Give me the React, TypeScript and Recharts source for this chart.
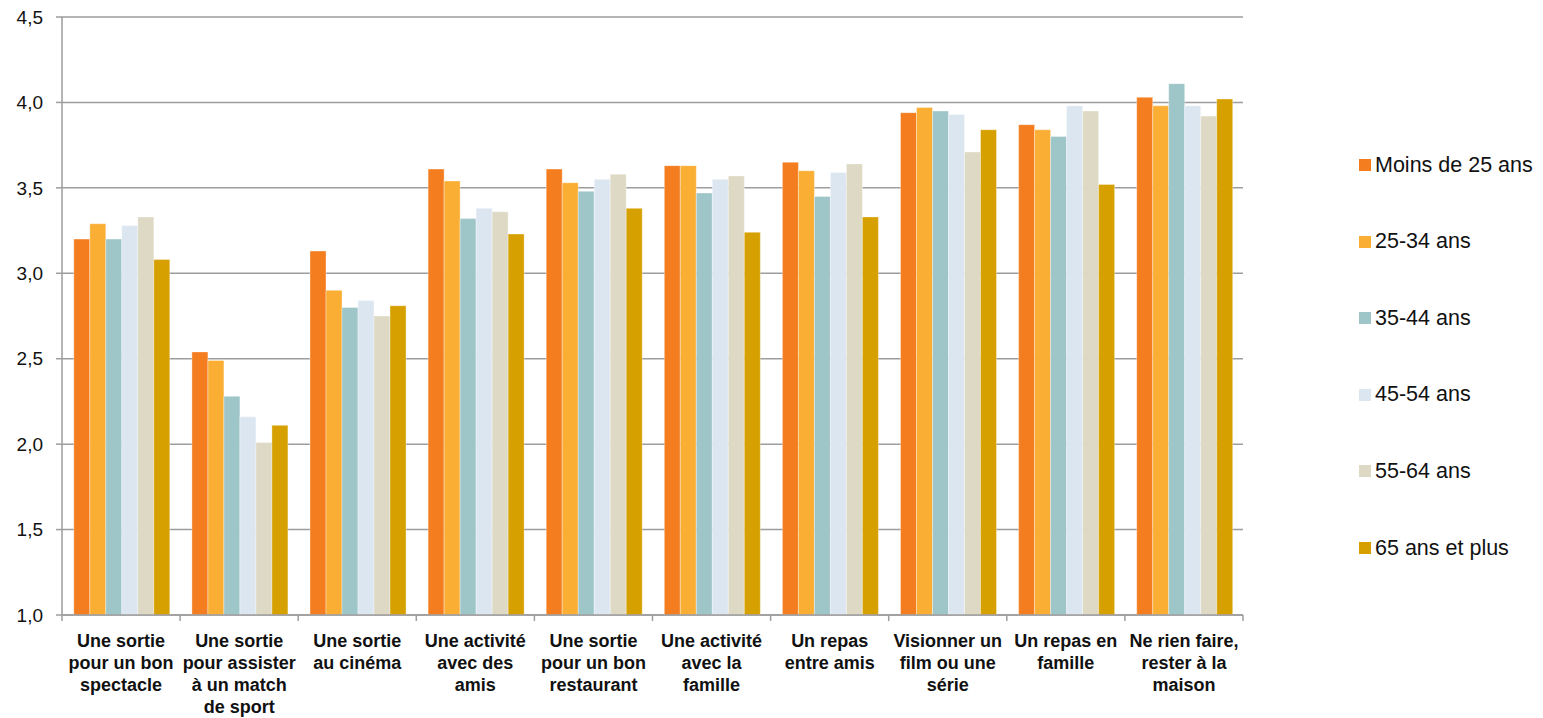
import React from "react";
import { Bar, BarChart, CartesianGrid, XAxis, YAxis } from "recharts";

// Age groups and their colours
const seriesNames = [
  "Moins de 25 ans",
  "25-34 ans",
  "35-44 ans",
  "45-54 ans",
  "55-64 ans",
  "65 ans et plus",
];
const seriesColors = ["#F47D20", "#FBAE34", "#9EC5C8", "#DCE6F1", "#DDD9C4", "#D6A000"];

// Category labels, split the way the original wraps them
const categoryLines = [
  ["Une sortie", "pour un bon", "spectacle"],
  ["Une sortie", "pour assister", "à un match", "de sport"],
  ["Une sortie", "au cinéma"],
  ["Une activité", "avec des", "amis"],
  ["Une sortie", "pour un bon", "restaurant"],
  ["Une activité", "avec la", "famille"],
  ["Un repas", "entre amis"],
  ["Visionner un", "film ou une", "série"],
  ["Un repas en", "famille"],
  ["Ne rien faire,", "rester à la", "maison"],
];
const categories = categoryLines.map((l) => l.join(" "));

const moins25 = [3.2, 2.54, 3.13, 3.61, 3.61, 3.63, 3.65, 3.94, 3.87, 4.03];
const ans25_34 = [3.29, 2.49, 2.9, 3.54, 3.53, 3.63, 3.6, 3.97, 3.84, 3.98];
const ans35_44 = [3.2, 2.28, 2.8, 3.32, 3.48, 3.47, 3.45, 3.95, 3.8, 4.11];
const ans45_54 = [3.28, 2.16, 2.84, 3.38, 3.55, 3.55, 3.59, 3.93, 3.98, 3.98];
const ans55_64 = [3.33, 2.01, 2.75, 3.36, 3.58, 3.57, 3.64, 3.71, 3.95, 3.92];
const ans65plus = [3.08, 2.11, 2.81, 3.23, 3.38, 3.24, 3.33, 3.84, 3.52, 4.02];

const seriesValues = [moins25, ans25_34, ans35_44, ans45_54, ans55_64, ans65plus];
const yTicks = [1, 1.5, 2, 2.5, 3, 3.5, 4, 4.5];

const data = categories.map((name, i) => {
  const row: Record<string, string | number> = { name };
  seriesNames.forEach((s, k) => {
    row[s] = seriesValues[k][i];
  });
  return row;
});

const WIDTH = 1543;
const HEIGHT = 718;
const PLOT_LEFT = 62;
const PLOT_RIGHT = 1243;
const BAND = (PLOT_RIGHT - PLOT_LEFT) / categories.length;
const FONT = '"Liberation Sans", Arial, sans-serif';
const AXIS_GRAY = "#9d9d9d";

function CategoryTick(props: any) {
  const { x, y, payload, index } = props;
  const i0 = payload.index ?? index;
  const lines = categoryLines[i0] ?? [payload.value];
  return (
    <g>
      <line x1={x - BAND / 2} x2={x - BAND / 2} y1={y} y2={y + 6} stroke={AXIS_GRAY} strokeWidth={1.5} />
      {i0 === categories.length - 1 && (
        <line x1={x + BAND / 2} x2={x + BAND / 2} y1={y} y2={y + 6} stroke={AXIS_GRAY} strokeWidth={1.5} />
      )}
      <text
        x={x}
        y={y + 32}
        textAnchor="middle"
        fontFamily={FONT}
        fontSize={18}
        fontWeight="bold"
        fill="#111"
      >
        {lines.map((l: string, i: number) => (
          <tspan key={i} x={x} dy={i === 0 ? 0 : 22}>
            {l}
          </tspan>
        ))}
      </text>
    </g>
  );
}

export default function App() {
  return (
    <div style={{ position: "absolute", left: 0, top: 0, width: WIDTH, height: HEIGHT, background: "#fff" }}>
      <BarChart
        width={WIDTH}
        height={HEIGHT}
        data={data}
        margin={{ top: 17, right: WIDTH - PLOT_RIGHT, bottom: 0, left: 0 }}
        barCategoryGap="10%"
        barGap={0}
      >
        <CartesianGrid horizontal vertical={false} stroke={AXIS_GRAY} strokeWidth={1.5} />
        <XAxis
          dataKey="name"
          height={103}
          interval={0}
          tickLine={false}
          tickSize={0}
          tickMargin={0}
          axisLine={{ stroke: AXIS_GRAY, strokeWidth: 1.5 }}
          tick={<CategoryTick />}
        />
        <YAxis
          width={PLOT_LEFT}
          domain={[1, 4.5]}
          ticks={yTicks}
          interval={0}
          tickSize={6}
          tickMargin={13}
          tickLine={{ stroke: AXIS_GRAY, strokeWidth: 1.5 }}
          axisLine={{ stroke: AXIS_GRAY, strokeWidth: 1.5 }}
          tick={{ fill: "#111", fontSize: 19, fontFamily: FONT }}
          tickFormatter={(v: number) => v.toFixed(1).replace(".", ",")}
        />
        {seriesNames.map((s, k) => (
          <Bar
            key={s}
            dataKey={s}
            fill={seriesColors[k]}
            stroke="#ffffff"
            strokeOpacity={0.35}
            strokeWidth={1}
            isAnimationActive={false}
          />
        ))}
      </BarChart>
      <div style={{ position: "absolute", left: 1359, top: 0, fontFamily: FONT, fontSize: 21.5, color: "#111" }}>
        {seriesNames.map((s, k) => (
          <div
            key={s}
            style={{
              position: "absolute",
              top: 165 + k * 76.6 - 13,
              left: 0,
              height: 26,
              display: "flex",
              alignItems: "center",
              whiteSpace: "nowrap",
            }}
          >
            <span style={{ width: 12, height: 12, background: seriesColors[k], marginRight: 4, display: "inline-block" }} />
            {s}
          </div>
        ))}
      </div>
    </div>
  );
}
